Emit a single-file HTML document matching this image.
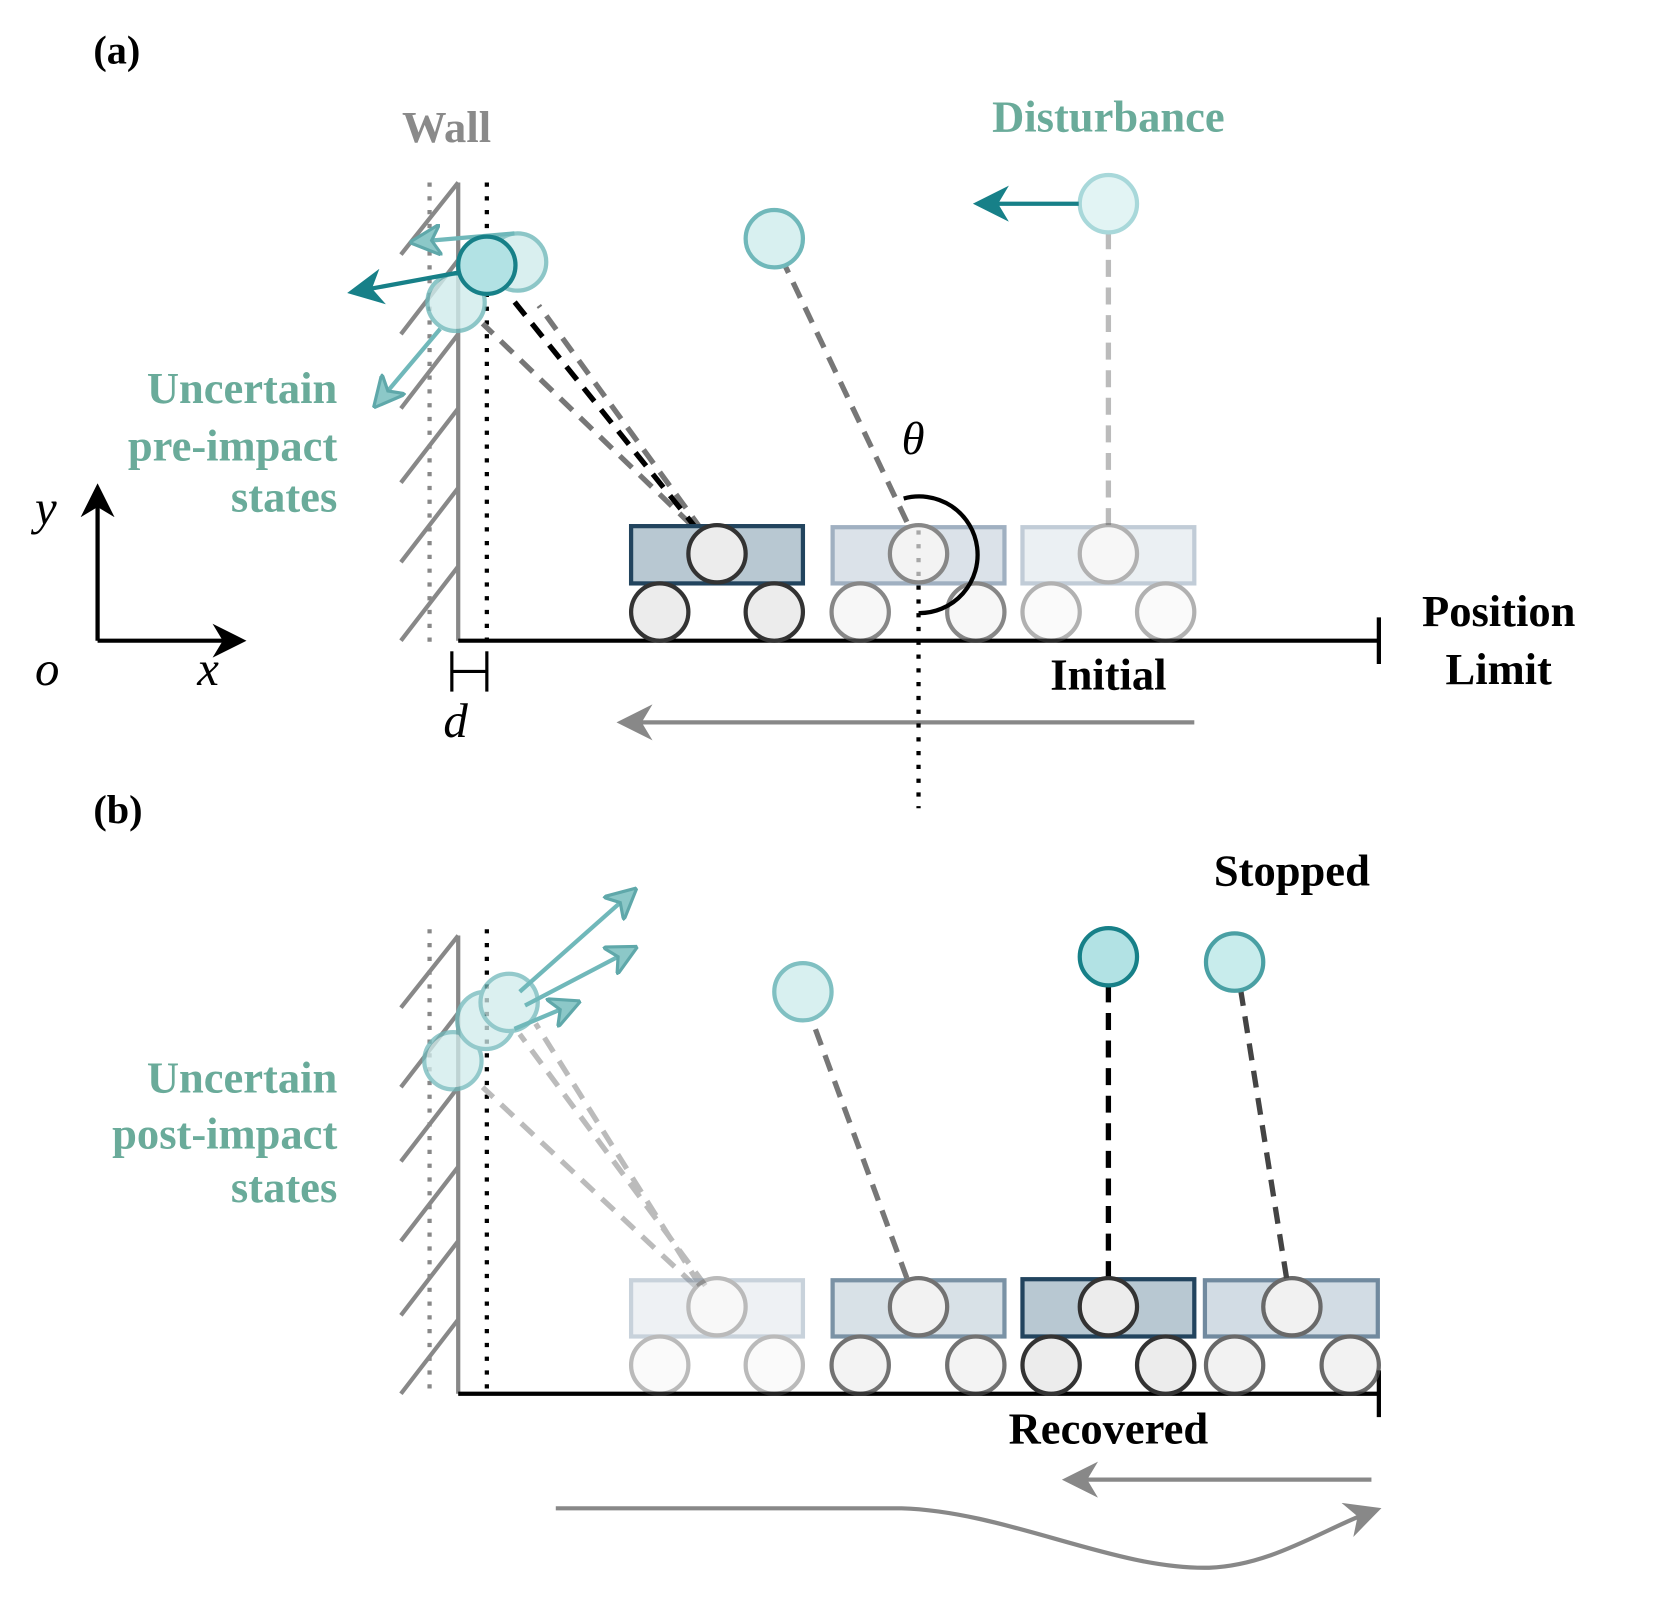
<!DOCTYPE html>
<html><head><meta charset="utf-8"><style>html,body{margin:0;padding:0;background:#fff}svg{display:block}text{font-family:"Liberation Serif","Times New Roman",serif}</style></head>
<body>
<svg width="1661" height="1607" viewBox="0 0 1566 1515" xmlns="http://www.w3.org/2000/svg">
<defs>
<marker id="ag" viewBox="0 0 10 10" refX="8" refY="5" markerWidth="8" markerHeight="8" markerUnits="userSpaceOnUse" orient="auto"><path d="M0,0 L10,5 L0,10 L3,5 z" fill="#888"/></marker>
<marker id="ag2" viewBox="0 0 10 10" refX="8" refY="5" markerWidth="34" markerHeight="34" markerUnits="userSpaceOnUse" orient="auto"><path d="M0,0 L10,5 L0,10 L3,5 z" fill="#888"/></marker>
<marker id="ak" viewBox="0 0 10 10" refX="8" refY="5" markerWidth="32" markerHeight="32" markerUnits="userSpaceOnUse" orient="auto"><path d="M0,0 L10,5 L0,10 L3,5 z" fill="#000"/></marker>
<marker id="at" viewBox="0 0 10 10" refX="8" refY="5" markerWidth="34" markerHeight="34" markerUnits="userSpaceOnUse" orient="auto"><path d="M0,0 L10,5 L0,10 L3,5 z" fill="#178088"/></marker>
<marker id="al" viewBox="0 0 10 10" refX="8" refY="5" markerWidth="30" markerHeight="30" markerUnits="userSpaceOnUse" orient="auto"><path d="M0,0 L10,5 L0,10 L3,5 z" fill="#8cc8c8" stroke="#5fa8aa" stroke-width="1"/></marker>
</defs>

<text x="88" y="60" font-size="38" font-weight="bold">(a)</text>
<text x="421" y="134" font-size="42" font-weight="bold" fill="#8a8a8a" text-anchor="middle">Wall</text>
<text x="1045" y="124" font-size="42" font-weight="bold" fill="#6aab9a" text-anchor="middle">Disturbance</text>
<g font-size="42" font-weight="bold" fill="#6aab9a" text-anchor="end">
<text x="318" y="380">Uncertain</text><text x="318" y="434">pre-impact</text><text x="318" y="482">states</text>
<text x="318" y="1030">Uncertain</text><text x="318" y="1083">post-impact</text><text x="318" y="1133">states</text>
</g>

<line x1="92" y1="604" x2="92" y2="462" stroke="#000" stroke-width="4" marker-end="url(#ak)"/>
<line x1="92" y1="604" x2="226" y2="604" stroke="#000" stroke-width="4" marker-end="url(#ak)"/>
<g font-size="46" font-style="italic"><text x="33" y="494">y</text><text x="33" y="646">o</text><text x="186" y="646">x</text></g>

<g stroke="#888" stroke-width="4">
<line x1="432" y1="172" x2="432" y2="604"/>
<line x1="378" y1="240" x2="432" y2="172"/><line x1="378" y1="315" x2="432" y2="245"/><line x1="378" y1="385" x2="432" y2="315"/>
<line x1="378" y1="455" x2="432" y2="385"/><line x1="378" y1="530" x2="432" y2="460"/><line x1="378" y1="604" x2="432" y2="534"/>
<line x1="405" y1="172" x2="405" y2="610" stroke-dasharray="4 9"/>
</g>
<line x1="459" y1="172" x2="459" y2="612" stroke="#000" stroke-width="4" stroke-dasharray="4 9"/>
<line x1="432" y1="604" x2="1300" y2="604" stroke="#000" stroke-width="4"/>
<line x1="1300" y1="582" x2="1300" y2="626" stroke="#000" stroke-width="4"/>
<g stroke="#000" stroke-width="3"><line x1="426" y1="633" x2="459" y2="633"/><line x1="426" y1="614" x2="426" y2="652"/><line x1="459" y1="614" x2="459" y2="652"/></g>
<text x="418" y="695" font-size="46" font-style="italic">d</text>
<line x1="1126" y1="681" x2="588" y2="681" stroke="#888" stroke-width="4" marker-end="url(#ag2)"/>
<line x1="866" y1="500" x2="866" y2="762" stroke="#000" stroke-width="4" stroke-dasharray="4 9"/>
<text x="850" y="428" font-size="44" font-style="italic">θ</text>

<line x1="1045" y1="495" x2="1045" y2="220" stroke="#bbb" stroke-width="5" stroke-dasharray="16 10"/>
<line x1="855" y1="492" x2="740" y2="250" stroke="#777" stroke-width="5" stroke-dasharray="16 10"/>
<line x1="652" y1="495" x2="455" y2="305" stroke="#777" stroke-width="5" stroke-dasharray="16 10"/>
<line x1="662" y1="500" x2="508" y2="288" stroke="#777" stroke-width="5" stroke-dasharray="16 10"/>
<line x1="658" y1="500" x2="483" y2="282" stroke="#000" stroke-width="5" stroke-dasharray="16 10"/>

<g opacity="0.45"><rect x="964" y="497" width="162" height="53" fill="#d5dee6" stroke="#7890a8" stroke-width="4"/>
<circle cx="1045" cy="522" r="27" fill="#eee" stroke="#555" stroke-width="4"/><circle cx="991" cy="577" r="27" fill="#f4f4f4" stroke="#555" stroke-width="4"/><circle cx="1099" cy="577" r="27" fill="#f4f4f4" stroke="#555" stroke-width="4"/></g>
<g opacity="0.7"><rect x="785" y="497" width="162" height="53" fill="#ccd7e0" stroke="#7890a8" stroke-width="4"/>
<circle cx="866" cy="522" r="27" fill="#eee" stroke="#555" stroke-width="4"/><circle cx="811" cy="577" r="27" fill="#f4f4f4" stroke="#555" stroke-width="4"/><circle cx="920" cy="577" r="27" fill="#f4f4f4" stroke="#555" stroke-width="4"/></g>
<rect x="595" y="496" width="162" height="54" fill="#b8c8d2" stroke="#22445e" stroke-width="4"/>
<circle cx="676" cy="522" r="27" fill="#ececec" stroke="#333" stroke-width="4"/><circle cx="622" cy="577" r="27" fill="#ececec" stroke="#333" stroke-width="4"/><circle cx="730" cy="577" r="27" fill="#ececec" stroke="#333" stroke-width="4"/>
<path d="M852 470 A55 55 0 1 1 866 578" fill="none" stroke="#000" stroke-width="4"/>

<circle cx="1045" cy="192" r="27" fill="#e2f4f4" stroke="#a8d8da" stroke-width="4"/>
<line x1="1017" y1="192" x2="924" y2="192" stroke="#178088" stroke-width="4" marker-end="url(#at)"/>
<circle cx="730" cy="225" r="27" fill="#d8f0f0" stroke="#70b8ba" stroke-width="4"/>
<g opacity="0.8"><circle cx="488" cy="247" r="27" fill="#d0ecec" stroke="#70b8ba" stroke-width="4"/><circle cx="430" cy="285" r="27" fill="#d0ecec" stroke="#70b8ba" stroke-width="4"/></g>
<line x1="485" y1="220" x2="392" y2="228" stroke="#70b8ba" stroke-width="4" marker-end="url(#al)"/>
<line x1="415" y1="310" x2="356" y2="380" stroke="#70b8ba" stroke-width="4" marker-end="url(#al)"/>
<circle cx="459" cy="250" r="27" fill="#b2e2e4" stroke="#178088" stroke-width="4"/>
<line x1="432" y1="257" x2="334" y2="275" stroke="#178088" stroke-width="4" marker-end="url(#at)"/>
<text x="1045" y="650" font-size="42" font-weight="bold" text-anchor="middle">Initial</text>
<text x="1413" y="590" font-size="42" font-weight="bold" text-anchor="middle">Position</text>
<text x="1413" y="645" font-size="42" font-weight="bold" text-anchor="middle">Limit</text>

<text x="88" y="776" font-size="38" font-weight="bold">(b)</text>
<g stroke="#888" stroke-width="4">
<line x1="432" y1="882" x2="432" y2="1314"/>
<line x1="378" y1="950" x2="432" y2="882"/><line x1="378" y1="1025" x2="432" y2="955"/><line x1="378" y1="1095" x2="432" y2="1025"/>
<line x1="378" y1="1170" x2="432" y2="1100"/><line x1="378" y1="1240" x2="432" y2="1170"/><line x1="378" y1="1314" x2="432" y2="1244"/>
<line x1="405" y1="876" x2="405" y2="1318" stroke-dasharray="4 9"/>
</g>
<line x1="459" y1="876" x2="459" y2="1318" stroke="#000" stroke-width="4" stroke-dasharray="4 9"/>
<line x1="432" y1="1314" x2="1300" y2="1314" stroke="#000" stroke-width="4"/>
<line x1="1300" y1="1292" x2="1300" y2="1336" stroke="#000" stroke-width="4"/>

<line x1="660" y1="1212" x2="505" y2="965" stroke="#bbb" stroke-width="5" stroke-dasharray="16 10"/>
<line x1="665" y1="1212" x2="490" y2="975" stroke="#bbb" stroke-width="5" stroke-dasharray="16 10"/>
<line x1="655" y1="1212" x2="455" y2="1025" stroke="#bbb" stroke-width="5" stroke-dasharray="16 10"/>
<line x1="855" y1="1205" x2="765" y2="960" stroke="#777" stroke-width="5" stroke-dasharray="16 10"/>
<line x1="1045" y1="1205" x2="1045" y2="930" stroke="#000" stroke-width="5" stroke-dasharray="16 10"/>
<line x1="1213" y1="1205" x2="1170" y2="935" stroke="#444" stroke-width="5" stroke-dasharray="16 10"/>

<g opacity="0.4"><rect x="595" y="1207" width="162" height="53" fill="#d5dee6" stroke="#7890a8" stroke-width="4"/>
<circle cx="676" cy="1232" r="27" fill="#eee" stroke="#555" stroke-width="4"/><circle cx="622" cy="1287" r="27" fill="#f4f4f4" stroke="#555" stroke-width="4"/><circle cx="730" cy="1287" r="27" fill="#f4f4f4" stroke="#555" stroke-width="4"/></g>
<g opacity="0.75"><rect x="785" y="1207" width="162" height="53" fill="#ccd7e0" stroke="#4e6e88" stroke-width="4"/>
<circle cx="866" cy="1232" r="27" fill="#eee" stroke="#444" stroke-width="4"/><circle cx="811" cy="1287" r="27" fill="#f0f0f0" stroke="#444" stroke-width="4"/><circle cx="920" cy="1287" r="27" fill="#f0f0f0" stroke="#444" stroke-width="4"/></g>
<g opacity="0.8"><rect x="1136" y="1207" width="163" height="53" fill="#c8d4de" stroke="#4e6e88" stroke-width="4"/>
<circle cx="1218" cy="1232" r="27" fill="#eee" stroke="#444" stroke-width="4"/><circle cx="1164" cy="1287" r="27" fill="#f0f0f0" stroke="#444" stroke-width="4"/><circle cx="1273" cy="1287" r="27" fill="#f0f0f0" stroke="#444" stroke-width="4"/></g>
<rect x="964" y="1206" width="162" height="54" fill="#b8c8d2" stroke="#22445e" stroke-width="4"/>
<circle cx="1045" cy="1232" r="27" fill="#ececec" stroke="#333" stroke-width="4"/><circle cx="991" cy="1287" r="27" fill="#ececec" stroke="#333" stroke-width="4"/><circle cx="1099" cy="1287" r="27" fill="#ececec" stroke="#333" stroke-width="4"/>

<circle cx="1045" cy="902" r="27" fill="#b2e2e4" stroke="#178088" stroke-width="4"/>
<circle cx="1164" cy="907" r="27" fill="#c8ecec" stroke="#4aa0a4" stroke-width="4"/>
<circle cx="757" cy="935" r="27" fill="#d8f0f0" stroke="#80c0c2" stroke-width="4"/>
<g opacity="0.75"><circle cx="427" cy="1000" r="27" fill="#d0ecec" stroke="#70b8ba" stroke-width="4"/><circle cx="458" cy="962" r="27" fill="#d0ecec" stroke="#70b8ba" stroke-width="4"/><circle cx="480" cy="945" r="27" fill="#d0ecec" stroke="#70b8ba" stroke-width="4"/></g>
<line x1="490" y1="935" x2="596" y2="841" stroke="#70b8ba" stroke-width="4" marker-end="url(#al)"/>
<line x1="495" y1="948" x2="596" y2="895" stroke="#70b8ba" stroke-width="4" marker-end="url(#al)"/>
<line x1="485" y1="970" x2="542" y2="946" stroke="#70b8ba" stroke-width="4" marker-end="url(#al)"/>

<text x="1218" y="835" font-size="42" font-weight="bold" text-anchor="middle">Stopped</text>
<text x="1045" y="1361" font-size="42" font-weight="bold" text-anchor="middle">Recovered</text>
<line x1="1293" y1="1395" x2="1008" y2="1395" stroke="#888" stroke-width="4" marker-end="url(#ag2)"/>
<path d="M524 1422 L850 1422 C950 1425 1050 1480 1140 1478 C1200 1476 1250 1440 1296 1424" fill="none" stroke="#888" stroke-width="4" marker-end="url(#ag2)"/>
</svg>
</body></html>
